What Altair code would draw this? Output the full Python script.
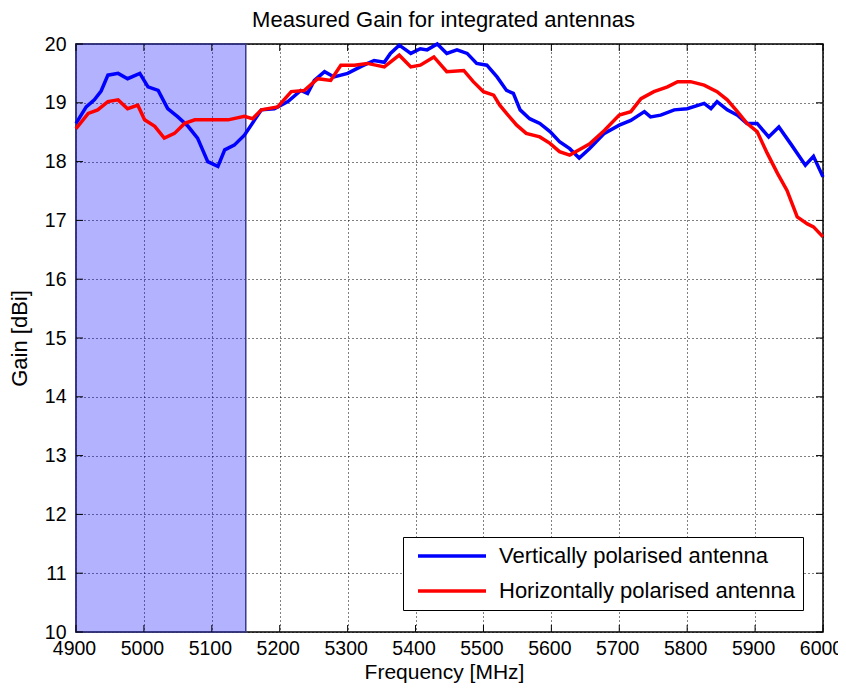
import altair as alt
import pandas as pd

# ---------------- data ----------------
freq_v = [4900, 4915, 4927, 4937, 4947, 4962, 4976, 4994, 5006, 5021, 5035, 5050, 5065, 5079,
          5094, 5109, 5119, 5133, 5148, 5163, 5173, 5192, 5212, 5231, 5241, 5251, 5266, 5280,
          5300, 5320, 5339, 5354, 5363, 5376, 5393, 5407, 5417, 5432, 5446, 5461, 5476, 5490,
          5505, 5520, 5534, 5544, 5554, 5568, 5583, 5598, 5612, 5627, 5641, 5656, 5678, 5700,
          5717, 5737, 5746, 5761, 5781, 5800, 5825, 5835, 5844, 5859, 5874, 5888, 5903, 5920,
          5935, 5952, 5974, 5986, 6000]
gain_v = [18.65, 18.93, 19.05, 19.2, 19.47, 19.5, 19.41, 19.5, 19.27, 19.21, 18.9, 18.76, 18.6, 18.4,
          18.0, 17.92, 18.2, 18.28, 18.45, 18.71, 18.88, 18.9, 19.02, 19.21, 19.16, 19.38, 19.53, 19.44,
          19.5, 19.62, 19.72, 19.69, 19.84, 19.98, 19.84, 19.92, 19.9, 20.0, 19.84, 19.9, 19.84, 19.67,
          19.64, 19.44, 19.21, 19.16, 18.88, 18.73, 18.65, 18.51, 18.34, 18.22, 18.06, 18.22, 18.48, 18.62,
          18.7, 18.85, 18.76, 18.79, 18.88, 18.9, 18.99, 18.9, 19.02, 18.88, 18.79, 18.65, 18.65, 18.42,
          18.59, 18.31, 17.94, 18.09, 17.74]

freq_h = [4900, 4918, 4932, 4947, 4962, 4976, 4991, 5001, 5016, 5030, 5045, 5060, 5075, 5099,
          5124, 5148, 5160, 5173, 5197, 5217, 5236, 5256, 5275, 5290, 5310, 5329, 5354, 5376,
          5393, 5407, 5427, 5446, 5471, 5485, 5500, 5515, 5524, 5534, 5549, 5563, 5583, 5598,
          5612, 5627, 5641, 5656, 5678, 5700, 5717, 5732, 5751, 5771, 5786, 5805, 5825, 5844,
          5859, 5874, 5888, 5903, 5918, 5933, 5947, 5962, 5977, 5986, 6000]
gain_h = [18.56, 18.82, 18.88, 19.02, 19.05, 18.9, 18.96, 18.71, 18.6, 18.4, 18.48, 18.65, 18.71, 18.71,
          18.71, 18.77, 18.73, 18.88, 18.93, 19.19, 19.21, 19.41, 19.38, 19.64, 19.64, 19.67, 19.61, 19.81,
          19.61, 19.64, 19.78, 19.53, 19.55, 19.36, 19.19, 19.13, 18.96, 18.82, 18.62, 18.48, 18.42, 18.31,
          18.17, 18.11, 18.2, 18.3, 18.53, 18.79, 18.85, 19.07, 19.19, 19.27, 19.36, 19.36, 19.3, 19.19,
          19.05, 18.85, 18.65, 18.51, 18.14, 17.8, 17.51, 17.06, 16.94, 16.89, 16.72]

series_names = ["Vertically polarised antenna", "Horizontally polarised antenna"]
series_colors = ["#0000ff", "#ff0000"]
x_ticks = [4900, 5000, 5100, 5200, 5300, 5400, 5500, 5600, 5700, 5800, 5900, 6000]
y_ticks = [10, 11, 12, 13, 14, 15, 16, 17, 18, 19, 20]
band = [4900, 5150]
x_domain = [4900, 6000]
y_domain = [10, 20]

# ---------------- tables ----------------
df_lines = pd.concat([
    pd.DataFrame({"freq": freq_v, "gain": gain_v, "series": series_names[0]}),
    pd.DataFrame({"freq": freq_h, "gain": gain_h, "series": series_names[1]}),
], ignore_index=True)
df_band = pd.DataFrame({"x0": [band[0]], "x1": [band[1]], "y0": [y_domain[0]], "y1": [y_domain[1]]})
df_xt = pd.DataFrame({"t": x_ticks})
df_yt = pd.DataFrame({"t": y_ticks})

W, H = 747, 588
FONT = "Liberation Sans"

xscale = alt.Scale(domain=x_domain, nice=False, zero=False)
yscale = alt.Scale(domain=y_domain, nice=False, zero=False)

xaxis = alt.Axis(values=x_ticks, format="d", grid=True, gridDash=[1, 3], gridColor="black",
                 gridOpacity=1, gridWidth=1, ticks=False, domain=False,
                 labelFont=FONT, labelFontSize=19.5, labelColor="black", labelPadding=7,
                 labelOffset=-2, labelFlush=False, labelOverlap=False,
                 title="Frequency [MHz]", titleFont=FONT, titleFontSize=21, titleFontWeight="normal",
                 titleColor="black", titleX=368, titleY=46, titleBaseline="alphabetic", titleAlign="center")
yaxis = alt.Axis(values=y_ticks, format="d", grid=True, gridDash=[1, 3], gridColor="black",
                 gridOpacity=1, gridWidth=1, ticks=False, domain=False,
                 labelFont=FONT, labelFontSize=19.5, labelColor="black", labelPadding=10,
                 labelOffset=0, labelFlush=False, labelOverlap=False,
                 title="Gain [dBi]", titleFont=FONT, titleFontSize=22, titleFontWeight="normal",
                 titleColor="black", titleX=-50, titleY=294, titleAngle=270,
                 titleBaseline="alphabetic", titleAlign="center")

band_layer = alt.Chart(df_band).mark_rect(
    fill="#0000ff", fillOpacity=0.3, stroke="#3a3a8c", strokeWidth=1.5
).encode(
    x=alt.X("x0:Q", scale=xscale, axis=xaxis), x2="x1",
    y=alt.Y("y0:Q", scale=yscale, axis=yaxis), y2="y1",
)

line_layer = alt.Chart(df_lines).mark_line(strokeWidth=3.5).encode(
    x=alt.X("freq:Q", scale=xscale, axis=xaxis),
    y=alt.Y("gain:Q", scale=yscale, axis=yaxis),
    color=alt.Color("series:N", scale=alt.Scale(domain=series_names, range=series_colors),
                    legend=alt.Legend(title=None, orient="none", legendX=327, legendY=493,
                                      symbolType="stroke", symbolSize=4624, symbolStrokeWidth=3.5,
                                      clipHeight=22,
                                      labelFont=FONT, labelFontSize=22, labelColor="black",
                                      labelLimit=400, strokeColor="black", fillColor="white",
                                      padding=8, rowPadding=13, symbolOffset=5, labelOffset=11,
                                      cornerRadius=0)),
)

TL = 7
xt_bottom = alt.Chart(df_xt).mark_rule(color="black", strokeWidth=1).encode(
    x=alt.X("t:Q", scale=xscale), y=alt.value(H), y2=alt.value(H - TL))
xt_top = alt.Chart(df_xt).mark_rule(color="black", strokeWidth=1).encode(
    x=alt.X("t:Q", scale=xscale), y=alt.value(0), y2=alt.value(TL))
yt_left = alt.Chart(df_yt).mark_rule(color="black", strokeWidth=1).encode(
    y=alt.Y("t:Q", scale=yscale), x=alt.value(0), x2=alt.value(TL))
yt_right = alt.Chart(df_yt).mark_rule(color="black", strokeWidth=1).encode(
    y=alt.Y("t:Q", scale=yscale), x=alt.value(W), x2=alt.value(W - TL))

chart = alt.layer(band_layer, line_layer, xt_bottom, xt_top, yt_left, yt_right).properties(
    width=W, height=H,
    title=alt.TitleParams("Measured Gain for integrated antennas", font=FONT, fontSize=22,
                          fontWeight="normal", color="black", frame="group", anchor="middle",
                          offset=2, dx=-6),
    padding={"left": 68, "top": 36, "right": 15, "bottom": 51},
    autosize=alt.AutoSizeParams(type="none"),
    background="white",
).configure_view(stroke="black", strokeWidth=1.5)

chart.save("out.html", embed_options={"renderer": "svg", "actions": False})
